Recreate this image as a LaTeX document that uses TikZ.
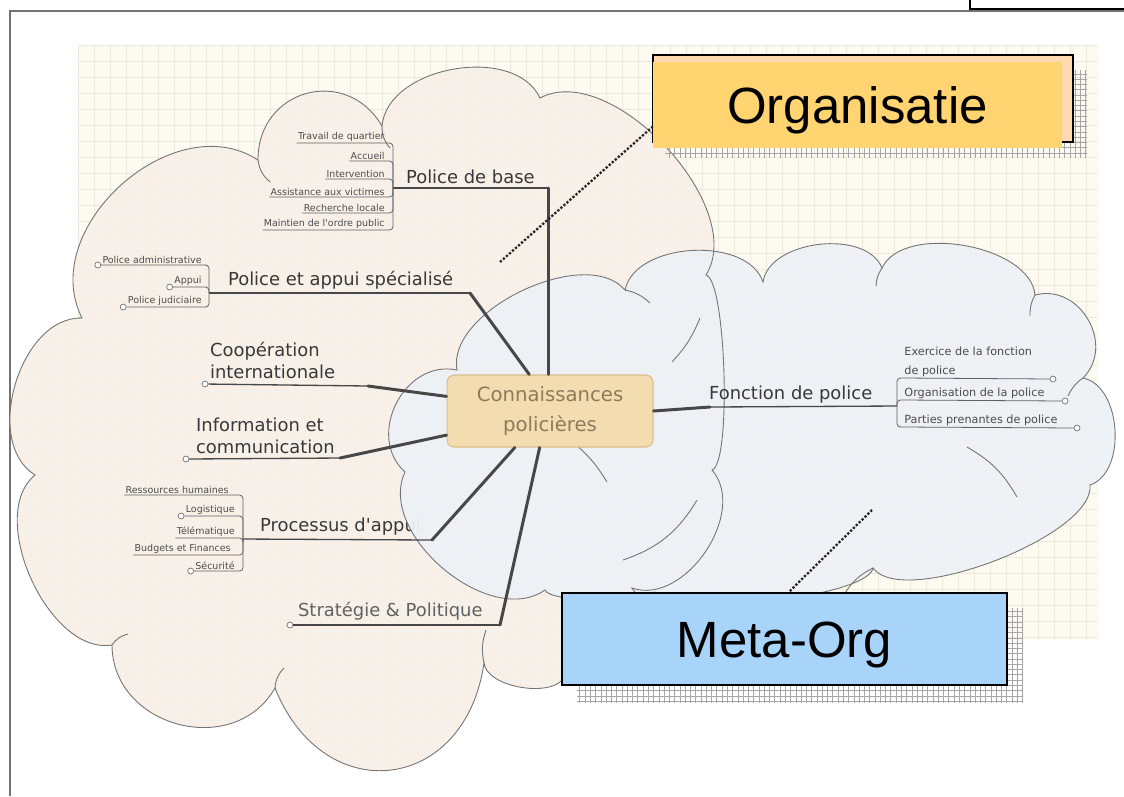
\documentclass[tikz,border=0pt]{standalone}
\usepackage{fontspec}
\newfontfamily\mapfont{DejaVu Sans}
\newfontfamily\boxfont{Liberation Sans}
\usetikzlibrary{positioning,calc,patterns}

\definecolor{paper}{HTML}{FDFBF1}
\definecolor{paperline}{HTML}{EDEADB}
\definecolor{peach}{HTML}{FCEFE3}
\definecolor{sky}{HTML}{EBF2F9}
\definecolor{hubfill}{HTML}{F3DDB0}
\definecolor{hubline}{HTML}{D9BE8C}
\definecolor{hubtext}{HTML}{8C7B5C}
\definecolor{orgfill}{HTML}{FFD471}
\definecolor{orgback}{HTML}{FFD9B2}
\definecolor{metafill}{HTML}{A8D4FA}

\newcommand\peachcloud{(35,475) to[puff=0.97] (82,318) to[puff=1.09] (258,160) to[puff=1.41] (382,126) to[puff=0.96] (540,98) to[puff=0.85] (706,275) to[puff=0.27] (712,470) to[puff=1.0] (632,588) to[puff=1.1] (565,676) to[puff=0.78] (484,663) to[puff=1.6] (275,688) to[puff=1.25] (112,645) to[puff=0.88] (35,475) -- cycle}
\newcommand\skycloud{(457,370) to[puff=0.83] (625,290) to[puff=0.91] (763,282) to[puff=0.91] (882,268) to[puff=0.83] (1035,295) to[puff=1.24] (1083,378) to[puff=0.94] (1090,485) to[puff=0.56] (873,568) to[puff=0.35] (655,592) to[puff=0.3] (545,590) to[puff=0.95] (405,472) to[puff=1.2] (457,370) -- cycle}

\begin{document}
\begin{tikzpicture}[x=0.02cm,y=-0.02cm,
	puff/.style={bend left=75,looseness=#1},
	cloudline/.style={draw=black!55,line width=0.5pt},
	papergrid/.style={draw=paperline,line width=0.3pt},
	finegrid/.style={draw=black!6,line width=0.2pt},
	trunk/.style={draw=black!72,line width=1.7pt,line cap=round},
	twig/.style={draw=black!72,line width=0.75pt},
	leafline/.style={draw=black!62,line width=0.45pt,rounded corners=2pt},
	linkdot/.style={draw=black!85,densely dotted,line width=1.3pt},
	hub/.style={rectangle,rounded corners=4pt,draw=hubline,fill=hubfill,line width=0.6pt,minimum width=4.12cm,minimum height=1.44cm,align=center,text=hubtext,font=\mapfont\fontsize{11.2}{17}\selectfont},
	branch/.style={inner sep=1pt,text=black!78,align=left,font=\mapfont\fontsize{10.2}{12.5}\selectfont},
	leaf/.style={inner sep=0.6pt,text=black!70,font=\mapfont\fontsize{5.4}{6.5}\selectfont},
	fleaf/.style={inner sep=0.6pt,text=black!70,align=left,font=\mapfont\fontsize{6.4}{10.5}\selectfont},
	knob/.style={circle,draw=black!55,fill=white,line width=0.4pt,inner sep=0pt,minimum size=3.4pt},
	orgbox/.style={rectangle,fill=orgfill,minimum width=8.18cm,minimum height=1.72cm,text height=20.5pt,text depth=0pt,font=\boxfont\fontsize{29}{34}\selectfont},
	metabox/.style={rectangle,draw=black,line width=1.3pt,fill=metafill,minimum width=8.9cm,minimum height=1.84cm,text height=20.5pt,text depth=0pt,font=\boxfont\fontsize{29}{34}\selectfont}]

	\useasboundingbox (0,0) rectangle (1124,796);
	\draw[black!55,line width=1.2pt] (10,796) -- (10,11) -- (1124,11);
	\draw[black,line width=1.2pt] (970,0) -- (970,9) -- (1124,9);

	\fill[paper] (78,45) rectangle (1098,640);
	\foreach \gx in {78,94,...,1098} \draw[papergrid] (\gx,45) -- (\gx,640);
	\foreach \gy in {45,61,...,640} \draw[papergrid] (78,\gy) -- (1098,\gy);

	\fill[peach] \peachcloud;
	\begin{scope}
		\clip \peachcloud;
		\foreach \gx in {10,15,...,720} \draw[finegrid] (\gx,60) -- (\gx,790);
		\foreach \gy in {60,65,...,790} \draw[finegrid] (10,\gy) -- (720,\gy);
	\end{scope}

	\node[branch,anchor=south west] (pr) at (258,537) {Processus d'appui};

	\fill[sky,fill opacity=0.93] \skycloud;
	\begin{scope}
		\clip \skycloud;
		\foreach \gx in {385,390,...,1120} \draw[finegrid] (\gx,235) -- (\gx,605);
		\foreach \gy in {235,240,...,605} \draw[finegrid] (385,\gy) -- (1120,\gy);
	\end{scope}

	\draw[cloudline] \peachcloud;
	\draw[cloudline] \skycloud;
	\draw[cloudline] (258,160) to[bend right=20] (270,182);
	\draw[cloudline] (382,126) to[bend right=20] (390,148);
	\draw[cloudline] (112,645) to[bend left=20] (128,634);
	\draw[cloudline] (275,688) to[bend left=20] (284,668);
	\draw[cloudline] (484,663) to[bend left=15] (486,630);
	\draw[cloudline] (625,290) to[bend left=15] (650,303);
	\draw[cloudline] (700,318) to[bend left=10] (672,362);
	\draw[cloudline] (882,268) to[bend right=15] (876,286);
	\draw[cloudline] (1035,295) to[bend right=15] (1030,316);
	\draw[cloudline] (1083,378) to[bend right=15] (1068,396);
	\draw[cloudline] (967,447) to[bend left=15] (1017,497);
	\draw[cloudline] (873,568) to[bend right=15] (845,593);
	\draw[cloudline] (697,500) to[bend left=20] (623,560);
	\draw[cloudline] (570,440) to[bend left=10] (607,482);

	\node[hub] (kern) at (550,411) {Connaissances\\policières};

	\coordinate (pbJ) at (393,188);
	\coordinate (pbK) at (548,188);
	\node[branch,anchor=south west] (pb) at (404,186) {Police de base};
	\draw[trunk] (kern.north -| pbK) -- (pbK);
	\draw[twig] (pbK) -- (pbJ);
	\node[leaf,anchor=south east] (pb1) at (386,143) {Travail de quartier};
	\node[leaf,anchor=south east] (pb2) at (386,161) {Accueil};
	\node[leaf,anchor=south east] (pb3) at (386,179) {Intervention};
	\node[leaf,anchor=south east] (pb4) at (386,197) {Assistance aux victimes};
	\node[leaf,anchor=south east] (pb5) at (386,213) {Recherche locale};
	\node[leaf,anchor=south east] (pb6) at (386,230) {Maintien de l'ordre public};
	\draw[leafline] (pb1.south west) -- (pb1.south east) -| (pbJ);
	\draw[leafline] (pb2.south west) -- (pb2.south east) -| (pbJ);
	\draw[leafline] (pb3.south west) -- (pb3.south east) -| (pbJ);
	\draw[leafline] (pb4.south west) -- (pb4.south east) -| (pbJ);
	\draw[leafline] (pb5.south west) -- (pb5.south east) -| (pbJ);
	\draw[leafline] (pb6.south west) -- (pb6.south east) -| (pbJ);

	\coordinate (paJ) at (209,293);
	\coordinate (paK) at (470,293);
	\node[branch,anchor=south west] (pa) at (226,291) {Police et appui spécialisé};
	\draw[trunk] ($(kern.north west)!0.4!(kern.north east)$) -- (paK);
	\draw[twig] (paK) -- (paJ);
	\node[leaf,anchor=south east] (pa1) at (203,265) {Police administrative};
	\node[leaf,anchor=south east] (pa2) at (203,287) {Appui};
	\node[leaf,anchor=south east] (pa3) at (203,307) {Police judiciaire};
	\node[knob,left=0pt of pa1.south west] (pa1k) {};
	\node[knob,left=0pt of pa2.south west] (pa2k) {};
	\node[knob,left=0pt of pa3.south west] (pa3k) {};
	\draw[leafline] (pa1k) -- (pa1.south east) -| (paJ);
	\draw[leafline] (pa2k) -- (pa2.south east) -| (paJ);
	\draw[leafline] (pa3k) -- (pa3.south east) -| (paJ);

	\node[branch,anchor=south west] (co) at (208,381) {Coopération\\internationale};
	\node[knob] (cok) at (205,384) {};
	\coordinate (coE) at (368,386);
	\draw[twig] (cok) -- (coE);
	\draw[trunk] (coE) -- ($(kern.north west)!0.3!(kern.south west)$);

	\node[branch,anchor=south west] (ic) at (194,456) {Information et\\communication};
	\node[knob] (ick) at (186,459) {};
	\coordinate (icE) at (340,458);
	\draw[twig] (ick) -- (icE);
	\draw[trunk] (icE) -- ($(kern.north west)!0.83!(kern.south west)$);

	\coordinate (prJ) at (243,539);
	\coordinate (prE) at (432,540);
	\draw[twig] (prJ) -- (prE);
	\draw[trunk] (prE) -- ($(kern.south west)!0.33!(kern.south east)$);
	\node[leaf,anchor=south east] (pr1) at (230,495) {Ressources humaines};
	\node[leaf,anchor=south east] (pr2) at (236,516) {Logistique};
	\node[leaf,anchor=south east] (pr3) at (236,538) {Télématique};
	\node[leaf,anchor=south east] (pr4) at (232,555) {Budgets et Finances};
	\node[leaf,anchor=south east] (pr5) at (236,571) {Sécurité};
	\node[knob,left=0pt of pr2.south west] (pr2k) {};
	\node[knob,left=0pt of pr5.south west] (pr5k) {};
	\draw[leafline] (pr1.south west) -- (pr1.south east) -| (prJ);
	\draw[leafline] (pr2k) -- (pr2.south east) -| (prJ);
	\draw[leafline] (pr3.south west) -- (pr3.south east) -| (prJ);
	\draw[leafline] (pr4.south west) -- (pr4.south east) -| (prJ);
	\draw[leafline] (pr5k) -- (pr5.south east) -| (prJ);

	\node[branch,anchor=south west,text=black!62] (sp) at (296,622) {Stratégie \& Politique};
	\node[knob] (spk) at (290,625) {};
	\coordinate (spE) at (500,625);
	\draw[twig] (spk) -- (spE);
	\draw[trunk] (spE) -- ($(kern.south west)!0.45!(kern.south east)$);

	\coordinate (fpE) at (710,407);
	\coordinate (fpJ) at (897,406);
	\node[branch,anchor=south west] (fp) at (707,405) {Fonction de police};
	\draw[trunk] (kern.east) -- (fpE);
	\draw[twig] (fpE) -- (fpJ);
	\node[fleaf,anchor=south west] (fp1) at (903,378) {Exercice de la fonction\\de police};
	\node[fleaf,anchor=south west] (fp2) at (903,400) {Organisation de la police};
	\node[fleaf,anchor=south west] (fp3) at (903,427) {Parties prenantes de police};
	\node[knob] (fp1k) at (1053,379) {};
	\node[knob] (fp2k) at (1065,401) {};
	\node[knob] (fp3k) at (1077,428) {};
	\draw[leafline] (fp1k) -- (fp1.south west) -| (fpJ);
	\draw[leafline] (fp2k) -- (fp2.south west) -| (fpJ);
	\draw[leafline] (fp3k) -- (fp3.south west) -| (fpJ);

	\fill[pattern=grid,pattern color=black!35] (665,70) rectangle (1087,157);
	\draw[line width=1.3pt,fill=orgback] (653,55) rectangle (1073,142);
	\node[orgbox] (org) at (857.5,105) {Organisatie};
	\coordinate (orgTip) at (500,262);
	\draw[linkdot] (orgTip) -- ($(org.south west)!0.25!(org.north west)$);

	\fill[pattern=grid,pattern color=black!35] (577,608) rectangle (1023,702);
	\node[metabox] (meta) at (784.5,639) {Meta-Org};
	\coordinate (metaTip) at (872,510);
	\draw[linkdot] (metaTip) -- ($(meta.north west)!0.51!(meta.north east)$);

\end{tikzpicture}
\end{document}
